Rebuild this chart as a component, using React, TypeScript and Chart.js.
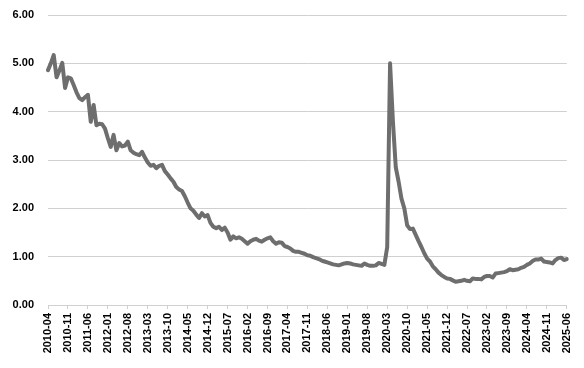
import React, { useEffect, useRef } from 'react';
import { Chart, registerables } from 'chart.js';

Chart.register(...registerables);

const START_YEAR = 2010;
const START_MONTH = 4;

const seriesValues: number[] = [
  4.86, 5.0, 5.17, 4.71, 4.85, 5.01, 4.49, 4.71, 4.69, 4.55,
  4.4, 4.28, 4.24, 4.3, 4.35, 3.79, 4.14, 3.72, 3.75, 3.74,
  3.65, 3.45, 3.27, 3.52, 3.2, 3.35, 3.28, 3.3, 3.38, 3.2,
  3.15, 3.12, 3.1, 3.17, 3.05, 2.95, 2.88, 2.9, 2.83, 2.88,
  2.9, 2.77, 2.7, 2.62, 2.55, 2.44, 2.39, 2.36, 2.25, 2.12,
  2.0, 1.95, 1.87, 1.8, 1.9, 1.83, 1.86, 1.7, 1.62, 1.59,
  1.62, 1.55, 1.6, 1.5, 1.35, 1.42, 1.38, 1.4, 1.37, 1.32,
  1.27, 1.32, 1.35, 1.37, 1.33, 1.31, 1.35, 1.38, 1.4, 1.32,
  1.27, 1.3, 1.29, 1.22, 1.2, 1.17, 1.12, 1.1, 1.1, 1.08,
  1.06, 1.03, 1.02, 0.99, 0.97, 0.95, 0.92, 0.9, 0.88, 0.86,
  0.84, 0.83, 0.82, 0.84, 0.86, 0.87, 0.86, 0.84, 0.83, 0.82,
  0.81, 0.86, 0.83, 0.81, 0.81, 0.82, 0.87, 0.85, 0.83, 1.2,
  5.0, 3.8, 2.85, 2.55, 2.2, 2.0, 1.65, 1.57, 1.58, 1.45,
  1.32, 1.2, 1.07, 0.96, 0.9, 0.8, 0.74, 0.67, 0.62, 0.58,
  0.55, 0.54, 0.51, 0.48, 0.49, 0.5, 0.52, 0.5, 0.49, 0.55,
  0.54, 0.54, 0.53, 0.58, 0.6, 0.6, 0.57, 0.65, 0.66, 0.67,
  0.68, 0.7, 0.74, 0.72, 0.73, 0.74, 0.77, 0.79, 0.83, 0.86,
  0.91, 0.94, 0.94, 0.96, 0.9, 0.89, 0.88, 0.86, 0.93, 0.97,
  0.98, 0.93, 0.95,
];

// Monthly category labels, 2010-04 .. 2025-06
const categories: string[] = seriesValues.map((_, i) => {
  const m = START_MONTH - 1 + i;
  const y = START_YEAR + Math.floor(m / 12);
  const mm = (m % 12) + 1;
  return `${y}-${String(mm).padStart(2, '0')}`;
});

const X_LABEL_STEP = 7;
const Y_MIN = 0;
const Y_MAX = 6;
const Y_STEP = 1;

export default function App() {
  const canvasRef = useRef<HTMLCanvasElement | null>(null);

  useEffect(() => {
    document.body.style.margin = '0';
    const canvas = canvasRef.current;
    if (!canvas) return;
    const chart = new Chart(canvas, {
      type: 'line',
      data: {
        labels: categories,
        datasets: [
          {
            data: seriesValues,
            borderColor: '#6e6e6e',
            borderWidth: 4,
            pointRadius: 0,
            pointHoverRadius: 0,
            tension: 0,
            fill: false,
            borderJoinStyle: 'round',
            borderCapStyle: 'round',
          },
        ],
      },
      options: {
        animation: false,
        responsive: false,
        maintainAspectRatio: false,
        layout: { padding: { top: 15, right: 16, left: 0, bottom: 0 } },
        plugins: {
          legend: { display: false },
          tooltip: { enabled: false },
        },
        scales: {
          x: {
            type: 'category',
            offset: false,
            afterBuildTicks: (scale: any) => {
              scale.ticks = scale.ticks.filter((t: any) => t.value % X_LABEL_STEP === 0);
            },
            afterFit: (scale: any) => {
              scale.height = 63;
            },
            ticks: {
              autoSkip: false,
              maxRotation: 90,
              minRotation: 90,
              padding: 4,
              color: '#000000',
              font: { family: 'Liberation Sans, Arial, sans-serif', size: 11, weight: 'bold' },
            },
            grid: {
              drawOnChartArea: false,
              drawTicks: true,
              tickLength: 4,
              color: '#d0d0d0',
            },
            border: { display: true, color: '#d0d0d0', width: 1 },
          },
          y: {
            min: Y_MIN,
            max: Y_MAX,
            afterFit: (scale: any) => {
              scale.width = 48;
            },
            ticks: {
              stepSize: Y_STEP,
              padding: 3,
              color: '#000000',
              font: { family: 'Liberation Sans, Arial, sans-serif', size: 11, weight: 'bold' },
              callback: (v: any) => Number(v).toFixed(2),
            },
            grid: {
              color: '#d0d0d0',
              drawTicks: true,
              tickLength: 11,
              tickColor: 'rgba(0,0,0,0)',
              lineWidth: 1,
            },
            border: { display: false },
          },
        },
      },
    });
    return () => chart.destroy();
  }, []);

  return (
    <div style={{ width: 584, height: 368, background: '#ffffff' }}>
      <canvas ref={canvasRef} width={584} height={368} style={{ display: 'block' }} />
    </div>
  );
}
